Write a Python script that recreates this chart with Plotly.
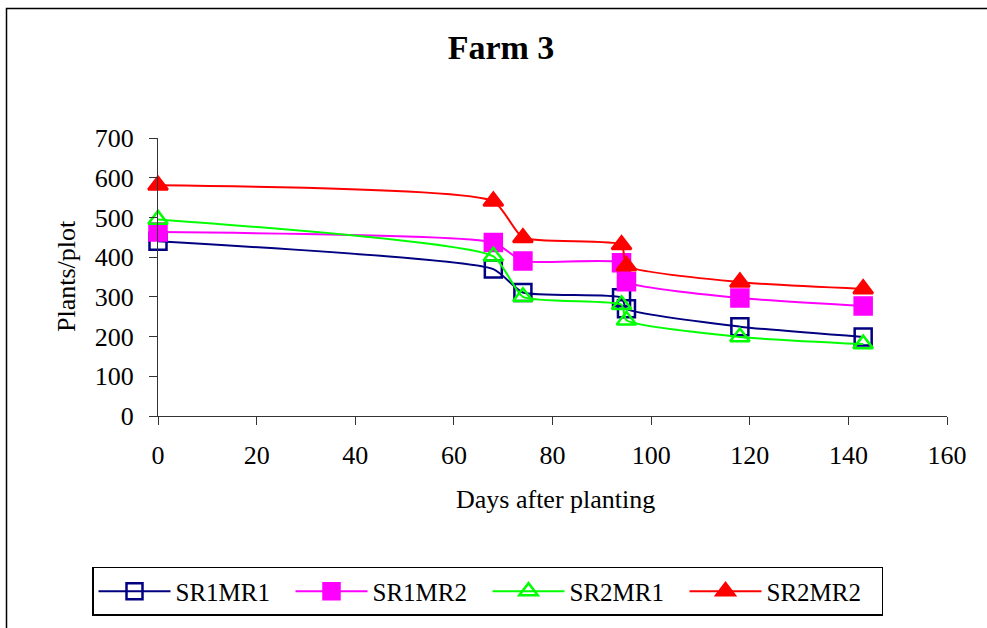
import plotly.graph_objects as go

days = [0, 68, 74, 94, 95, 118, 143]
sr1mr1 = [440, 370, 311, 298, 270, 225, 199]
sr1mr2 = [463, 437, 390, 386, 338, 297, 277]
sr2mr1 = [495, 402, 300, 280, 241, 199, 181]
sr2mr2 = [581, 541, 449, 431, 378, 337, 320]

names = ["SR1MR1", "SR1MR2", "SR2MR1", "SR2MR2"]
series = [sr1mr1, sr1mr2, sr2mr1, sr2mr2]
colors = ["#000080", "#FF00FF", "#00FF00", "#FF0000"]
symbols = ["square-open", "square", "triangle-up-open", "triangle-up"]

W, H = 987, 628
ML, MR, MT, MB = 158, 40, 138, 210
PW, PH = W - ML - MR, H - MT - MB

def px_x(p):
    return (p - ML) / PW

def px_y(p):
    return (H - MB - p) / PH

fig = go.Figure()
for n, s, c, sym in zip(names, series, colors, symbols):
    fig.add_trace(go.Scatter(
        x=days, y=s, name=n, mode="lines+markers",
        line=dict(color=c, width=2, shape="spline", smoothing=0.5),
        marker=dict(symbol=sym, size=17, color=c,
                    line=dict(color=c, width=2.5)),
        cliponaxis=False,
    ))

font = "Liberation Serif, Times New Roman, serif"
fig.update_layout(
    width=W, height=H,
    margin=dict(l=ML, r=MR, t=MT, b=MB),
    paper_bgcolor="white", plot_bgcolor="white",
    font=dict(family=font, size=26, color="black"),
    title=dict(text="<b>Farm 3</b>", x=(501 / W), xanchor="center",
               y=1 - 47 / H, yanchor="middle", yref="container",
               font=dict(family=font, size=34, color="black")),
    showlegend=True,
    legend=dict(orientation="h", x=px_x(92), xanchor="left",
                y=px_y(570), yanchor="top",
                bordercolor="black", borderwidth=1.5,
                font=dict(family=font, size=25, color="black"),
                itemwidth=72, entrywidth=110,
                bgcolor="white"),
    xaxis=dict(range=[0, 160], dtick=20, tick0=0, showgrid=False, zeroline=False,
               showline=True, linecolor="#333333", linewidth=1,
               ticks="outside", ticklen=8, tickcolor="#333333",
               tickfont=dict(size=26), ticklabelstandoff=8),
    yaxis=dict(range=[0, 700], dtick=100, tick0=0, showgrid=False, zeroline=False,
               showline=True, linecolor="#333333", linewidth=1,
               ticks="outside", ticklen=8, tickcolor="#333333",
               tickfont=dict(size=26), ticklabelstandoff=10),
    annotations=[
        dict(text="Days after planting", xref="paper", yref="paper",
             x=px_x(555), y=px_y(502), xanchor="center", yanchor="middle",
             showarrow=False, font=dict(size=26)),
        dict(text="Plants/plot", xref="paper", yref="paper",
             x=px_x(66), y=px_y(277), xanchor="center", yanchor="middle",
             textangle=-90, showarrow=False, font=dict(size=26)),
    ],
    shapes=[
        dict(type="rect", xref="paper", yref="paper",
             x0=px_x(6.5), x1=px_x(1000), y0=px_y(640), y1=px_y(7.5),
             line=dict(color="black", width=1.5), layer="below"),
    ],
)

fig.write_html("out.html")
